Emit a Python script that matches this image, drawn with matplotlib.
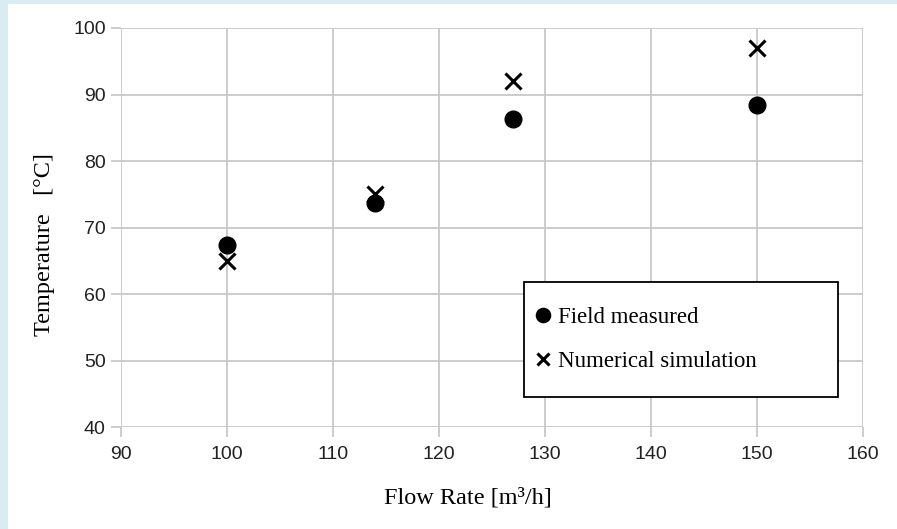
import matplotlib.pyplot as plt
from matplotlib.patches import Rectangle

# data
flow_rate = [100, 114, 127, 150]
field_measured = [67.3, 73.7, 86.3, 88.4]
numerical_sim = [65.0, 75.0, 92.0, 97.0]

x_ticks = [90, 100, 110, 120, 130, 140, 150, 160]
y_ticks = [40, 50, 60, 70, 80, 90, 100]

grid_col = '#c8c8c8'

fig = plt.figure(figsize=(8.97, 5.29), dpi=100)
fig.patch.set_facecolor('white')

# light blue frame strips on left and top of the image
fig.patches.append(Rectangle((0, 0), 8 / 897, 1, transform=fig.transFigure,
                             facecolor='#d9ecf2', edgecolor='none', zorder=0))
fig.patches.append(Rectangle((0, 1 - 4 / 529), 1, 4 / 529, transform=fig.transFigure,
                             facecolor='#d9ecf2', edgecolor='none', zorder=0))

ax = fig.add_axes([121 / 897, 1 - 427 / 529, 742 / 897, 399 / 529])

ax.plot(flow_rate, field_measured, linestyle='none', marker='o', color='black',
        markersize=12, label='Field measured', zorder=3)
ax.plot(flow_rate, numerical_sim, linestyle='none', marker='x', color='black',
        markersize=11, markeredgewidth=2.2, label='Numerical simulation', zorder=3)

ax.set_xlim(90, 160)
ax.set_ylim(40, 100)
ax.set_xticks(x_ticks)
ax.set_yticks(y_ticks)

ax.grid(True, color=grid_col, linewidth=1.3)
ax.set_axisbelow(True)
for s in ax.spines.values():
    s.set_visible(False)
ax.tick_params(length=7, width=1.3, color=grid_col, labelsize=14,
               labelcolor='#222222', pad=4)
ax.tick_params(axis='x', pad=7)
for lab in ax.get_xticklabels() + ax.get_yticklabels():
    lab.set_family('Liberation Sans')

xl = ax.set_xlabel('Flow Rate [m³/h]', family='Liberation Serif', fontsize=17.5)
yl = ax.set_ylabel('Temperature   [°C]', family='Liberation Serif', fontsize=17.5)
ax.xaxis.set_label_coords((468 - 121) / 742, (427 - 498) / 399)
ax.yaxis.set_label_coords((44 - 121) / 742, (427 - 245) / 399)
xl.set_va('center')
yl.set_va('center')

# legend frame drawn separately so its size matches the reference box
box = Rectangle((0.5431, 0.0752), 0.4232, 0.2882, transform=ax.transAxes,
                facecolor='white', edgecolor='black', linewidth=1.3, zorder=4)
ax.add_patch(box)
leg = ax.legend(loc='upper left', bbox_to_anchor=((532 - 121) / 742, (427 - 307) / 399),
                prop={'family': 'Liberation Serif', 'size': 16.5},
                frameon=False, borderpad=0, labelspacing=1.0, markerscale=0.85,
                handlelength=1.0, handletextpad=0.15, borderaxespad=0)
leg.set_zorder(5)

fig.savefig('out.png', dpi=100)
